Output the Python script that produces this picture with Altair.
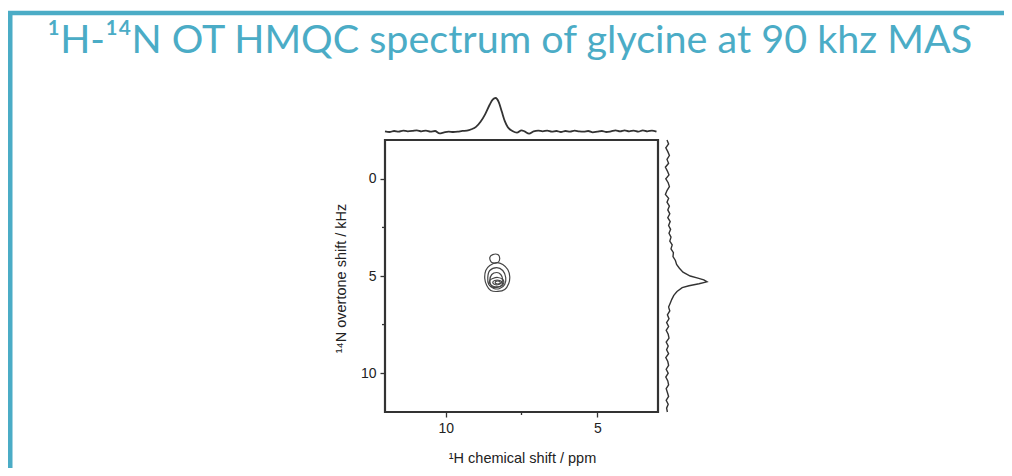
import altair as alt
import pandas as pd

# ---------------- data ----------------
TITLE = "\u00b9H-\u00b9\u2074N OT HMQC spectrum of glycine at 90 khz MAS"
X_TITLE = "\u00b9H chemical shift / ppm"
Y_TITLE = "\u00b9\u2074N overtone shift / kHz"

x_ticks = [10, 5]
y_ticks = [0, 5, 10]
x_minor = [7.5]
y_minor = [2.5, 7.5]

# contour lines (ppm, kHz), one id per closed level
cont_id = (["A"] * 12 + ["B"] * 6 + ["C"] * 9 + ["D"] * 8 + ["E"] * 8 + ["F"] * 6 + ["G"] * 4)
cont_ppm = [8.316, 8.118, 7.954, 7.888, 7.921, 8.053, 8.283, 8.513, 8.645, 8.711, 8.678, 8.546,
            8.546, 8.447, 8.283, 8.217, 8.283, 8.480,
            8.316, 8.118, 8.020, 8.053, 8.217, 8.414, 8.579, 8.612, 8.546,
            8.316, 8.184, 8.118, 8.151, 8.316, 8.480, 8.546, 8.480,
            8.447, 8.283, 8.118, 8.086, 8.217, 8.414, 8.546, 8.546,
            8.382, 8.217, 8.151, 8.250, 8.382, 8.447,
            8.349, 8.217, 8.217, 8.349]
cont_khz = [4.308, 4.410, 4.667, 5.026, 5.385, 5.692, 5.795, 5.744, 5.487, 5.128, 4.718, 4.462,
            4.051, 3.897, 3.897, 4.103, 4.308, 4.308,
            4.564, 4.718, 5.077, 5.436, 5.641, 5.641, 5.436, 5.077, 4.718,
            4.821, 4.923, 5.179, 5.487, 5.590, 5.538, 5.231, 4.923,
            5.128, 5.077, 5.179, 5.385, 5.538, 5.538, 5.385, 5.231,
            5.231, 5.231, 5.333, 5.436, 5.436, 5.333,
            5.282, 5.282, 5.385, 5.385]

# 1H projection (top)
top_ppm = [12.0, 11.85, 11.7, 11.55, 11.4, 11.25, 11.1, 10.95, 10.8, 10.65, 10.5, 10.35, 10.2,
           10.05, 9.9, 9.75, 9.6, 9.45, 9.3, 9.15, 9.0, 8.85, 8.7, 8.55, 8.45, 8.35, 8.25, 8.15,
           8.05, 7.95, 7.8, 7.65, 7.5, 7.4, 7.25, 7.1, 6.95, 6.8, 6.65, 6.5, 6.35, 6.2, 6.05, 5.9,
           5.75, 5.6, 5.45, 5.3, 5.15, 5.0, 4.85, 4.7, 4.55, 4.4, 4.25, 4.1, 3.95, 3.8, 3.65, 3.5,
           3.35, 3.2, 3.05]
top_int = [0.02, 0.00, 0.03, 0.01, 0.04, 0.02, 0.03, 0.05, 0.02, 0.04, 0.01, 0.03, -0.04,
           -0.01, 0.01, 0.00, 0.01, 0.03, 0.04, 0.08, 0.15, 0.30, 0.52, 0.80, 0.95, 1.00, 0.88, 0.60,
           0.32, 0.14, 0.03, -0.02, 0.05, 0.02, -0.05, 0.02, 0.04, 0.02, 0.04, 0.01, 0.03, 0.00, 0.03, 0.01,
           0.04, 0.02, 0.01, 0.03, -0.01, 0.01, 0.03, 0.00, 0.02, 0.05, 0.02, 0.05, 0.02, 0.04, 0.01, 0.05,
           0.02, 0.04, 0.01]

# 14N overtone projection (right)
right_khz = [-2.0, -1.8, -1.6, -1.4, -1.2, -1.0, -0.8, -0.6, -0.4, -0.2, 0.0, 0.2, 0.4, 0.6, 0.8,
             1.0, 1.2, 1.4, 1.6, 1.8, 2.0, 2.2, 2.4, 2.6, 2.8, 3.0, 3.2, 3.4, 3.6, 3.8, 4.0, 4.2,
             4.4, 4.6, 4.8, 5.0, 5.1, 5.2, 5.3, 5.4, 5.5, 5.6, 5.8, 6.0, 6.2, 6.4, 6.6, 6.8, 7.0,
             7.2, 7.4, 7.6, 7.8, 8.0, 8.2, 8.4, 8.6, 8.8, 9.0, 9.2, 9.4, 9.6, 9.8, 10.0, 10.2,
             10.4, 10.6, 10.8, 11.0, 11.2, 11.4, 11.6, 11.8, 12.0]
right_int = [0.00, 0.04, -0.03, 0.02, 0.06, 0.00, 0.04, -0.04, 0.01, 0.05, -0.03, 0.03, 0.06, 0.00, -0.04,
             0.04, 0.00, 0.06, 0.02, 0.07, 0.02, 0.08, 0.04, 0.09, 0.05, 0.10, 0.07, 0.13, 0.10, 0.16, 0.15, 0.21,
             0.24, 0.31, 0.40, 0.58, 0.75, 0.92, 1.00, 0.80, 0.55, 0.38, 0.25, 0.17, 0.12, 0.08, 0.04, 0.07, 0.01,
             0.05, -0.01, 0.04, -0.02, 0.03, 0.05, -0.02, 0.03, -0.01, 0.04, -0.03, 0.02, 0.04, -0.02, 0.03, -0.03,
             0.02, 0.04, -0.02, 0.01, 0.04, -0.02, 0.03, -0.01, 0.01]

# ---------------- styling ----------------
W, H = 273, 272
TEAL = "#4bacc6"
INK = "#333333"
FONT = "Liberation Sans"

xs = alt.Scale(domain=[12, 3], nice=False, zero=False)
ys = alt.Scale(domain=[-2, 12], reverse=True, nice=False, zero=False)

cont_df = pd.DataFrame({"cid": cont_id, "ppm": cont_ppm, "khz": cont_khz,
                        "ord": list(range(len(cont_id)))})
top_df = pd.DataFrame({"ppm": top_ppm, "inten": top_int})
right_df = pd.DataFrame({"khz": right_khz, "inten": right_int})
one = pd.DataFrame({"t": [TITLE]})

contours = alt.Chart(cont_df).mark_line(
    interpolate="cardinal-closed", color="#444444", strokeWidth=1.2
).encode(
    x=alt.X("ppm:Q", scale=xs, title=X_TITLE,
            axis=alt.Axis(values=x_ticks, format="d", titleX=137, titleY=50,
                          titleBaseline="alphabetic", titleAlign="center")),
    y=alt.Y("khz:Q", scale=ys, title=Y_TITLE,
            axis=alt.Axis(values=y_ticks, format="d", titleX=-44, titleY=138,
                          titleAngle=270, titleBaseline="middle", titleAlign="center")),
    detail="cid:N",
    order="ord:Q",
)

yminor = alt.Chart(pd.DataFrame({"v": y_minor})).mark_rule(color=INK, strokeWidth=1.3).encode(
    y=alt.Y("v:Q", scale=ys, axis=None), x=alt.value(-3), x2=alt.value(0))
xminor = alt.Chart(pd.DataFrame({"v": x_minor})).mark_rule(color=INK, strokeWidth=1.3).encode(
    x=alt.X("v:Q", scale=xs, axis=None), y=alt.value(H), y2=alt.value(H + 3))

top_proj = alt.Chart(top_df).mark_line(color=INK, strokeWidth=1.8, interpolate="monotone").encode(
    x=alt.X("ppm:Q", scale=xs, axis=None),
    y=alt.Y("inten:Q", scale=alt.Scale(domain=[0, 1], range=[-8, -42], nice=False, zero=False), axis=None),
)

right_proj = alt.Chart(right_df).mark_line(color=INK, strokeWidth=1.4, interpolate="linear").encode(
    y=alt.Y("khz:Q", scale=ys, axis=None),
    x=alt.X("inten:Q", scale=alt.Scale(domain=[0, 1], range=[282, 322], nice=False, zero=False), axis=None),
    order="khz:Q",
)

title = alt.Chart(one).mark_text(
    font="Lato", fontSize=39.5, color=TEAL, align="left", baseline="alphabetic"
).encode(text="t:N", x=alt.value(-338), y=alt.value(-87))

top_border = alt.Chart(one).mark_rule(color=TEAL, strokeWidth=4.5).encode(
    x=alt.value(-380), x2=alt.value(630), y=alt.value(-127))
left_border = alt.Chart(one).mark_rule(color=TEAL, strokeWidth=5).encode(
    x=alt.value(-375), y=alt.value(-129), y2=alt.value(340))

chart = alt.layer(
    contours, yminor, xminor, top_proj, right_proj, title, top_border, left_border
).resolve_scale(x="independent", y="independent").properties(
    width=W, height=H,
    padding={"left": 377, "top": 132, "right": 346, "bottom": 56},
    autosize=alt.AutoSizeParams(type="none"),
    background="white",
).configure_view(
    stroke=INK, strokeWidth=2.2
).configure_axis(
    domain=False, grid=False,
    tickColor=INK, tickSize=5, tickWidth=1.3,
    labelFont=FONT, labelFontSize=14, labelColor="#222222", labelPadding=4,
    titleFont=FONT, titleFontSize=14.5, titleFontWeight="normal", titleColor="#222222",
)

chart.save("out.html", embed_options={"renderer": "svg", "actions": False})
